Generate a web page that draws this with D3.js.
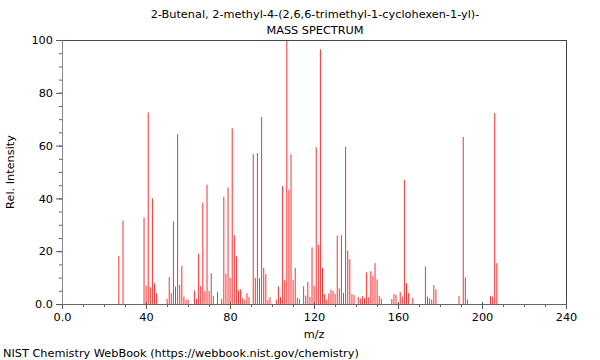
<!DOCTYPE html>
<html>
<head>
<meta charset="utf-8">
<script src="https://cdn.jsdelivr.net/npm/d3@7"></script>
<style>
  body { margin: 0; background: #fff; }
  svg { display: block; font-family: "DejaVu Sans", sans-serif; }
</style>
</head>
<body>
<svg id="chart" width="600" height="360"></svg>
<script>
const titleLines = ["2-Butenal, 2-methyl-4-(2,6,6-trimethyl-1-cyclohexen-1-yl)-", "MASS SPECTRUM"];
const xLabel = "m/z";
const yLabel = "Rel. Intensity";
const footer = "NIST Chemistry WebBook (https://webbook.nist.gov/chemistry)";

const mz = [27, 29, 39, 40, 41, 42, 43, 44, 45, 50, 51, 52, 53, 54, 55, 56, 57, 58, 59, 60,
  63, 64, 65, 66, 67, 68, 69, 70, 71, 72, 74, 76, 77, 78, 79, 80, 81, 82, 83, 84, 85, 86, 87, 88, 89,
  91, 92, 93, 94, 95, 96, 97, 98, 99, 102, 103, 104, 105, 106, 107, 108, 109, 110, 111, 112, 113,
  115, 116, 117, 118, 119, 120, 121, 122, 123, 124, 125, 126, 127, 128, 129, 130, 131, 132, 133, 134,
  135, 136, 137, 138, 139, 141, 142, 143, 144, 145, 146, 147, 148, 149, 150, 151, 152,
  157, 158, 159, 161, 162, 163, 164, 165, 167, 173, 174, 175, 176, 177, 178, 189, 191, 192, 193,
  204, 205, 206, 207];
const intensity = [18.2, 31.6, 32.8, 7.0, 72.6, 6.4, 40.0, 7.8, 4.2, 2.0, 10.2, 4.2, 31.3, 6.6, 64.3, 7.2, 14.4, 2.8, 1.6, 1.8,
  5.2, 2.0, 19.0, 6.8, 38.4, 4.9, 45.2, 4.9, 11.7, 2.9, 4.5, 1.9, 40.6, 11.5, 44.2, 9.9, 66.6, 26.1, 18.1, 5.2, 5.5, 2.2, 1.6, 4.1, 2.6,
  56.8, 9.9, 57.2, 9.8, 70.8, 13.7, 11.3, 1.6, 2.6, 1.6, 6.7, 2.6, 44.7, 9.0, 100, 43.4, 56.7, 9.0, 13.7, 2.4, 1.9,
  6.7, 3.2, 8.4, 2.7, 21.4, 6.9, 59.4, 22.5, 96.5, 13.7, 3.7, 1.7, 4.0, 5.5, 5.0, 3.8, 25.8, 5.9, 26.0, 4.2,
  59.5, 20.2, 17.0, 3.7, 3.5, 2.7, 2.1, 3.0, 2.2, 12.0, 2.6, 12.4, 10.7, 15.5, 9.3, 3.0, 2.1,
  1.9, 3.7, 3.5, 4.5, 2.8, 47.0, 7.9, 4.2, 2.3, 14.2, 2.8, 2.1, 1.7, 7.2, 5.5, 3.0, 63.3, 10.1, 1.7,
  3.0, 2.8, 72.4, 15.5];
const xTickValues = [0, 40, 80, 120, 160, 200, 240];
const yTickValues = [0, 20, 40, 60, 80, 100];

const FS = 11.3;
const svg = d3.select("#chart");
const margin = { left: 62, right: 34, top: 40, bottom: 56 };
const W = 600, H = 360;
const x = d3.scaleLinear().domain([0, 240]).range([margin.left, W - margin.right]);
const y = d3.scaleLinear().domain([0, 100]).range([H - margin.bottom, margin.top]);

const data = mz.map((m, i) => ({ m, v: intensity[i] }));

// bars (1px lines, not snapped so anti-aliasing mimics the reference)
svg.append("g").attr("transform", "translate(0.12,0)")
  .selectAll("line").data(data).join("line")
  .attr("x1", d => x(d.m)).attr("x2", d => x(d.m))
  .attr("y1", y(0)).attr("y2", d => y(d.v))
  .attr("stroke", "#ff3030").attr("stroke-width", 1);

// frame (top and right)
svg.append("path")
  .attr("d", `M${x(0)},${y(100)}H${x(240)}V${y(0)}`)
  .attr("fill", "none").attr("stroke", "#444").attr("stroke-width", 1)
  .attr("shape-rendering", "crispEdges");

// x axis
const xAxis = svg.append("g").attr("transform", `translate(0,${y(0)})`);
xAxis.call(d3.axisBottom(x).tickValues(d3.range(0, 241, 10)).tickSize(3).tickFormat(""));
xAxis.call(g => g.selectAll(".tick line").attr("stroke", "#666"));
const xMajor = svg.append("g").attr("transform", `translate(0,${y(0)})`)
  .call(d3.axisBottom(x).tickValues(xTickValues).tickSize(5).tickPadding(4)
    .tickFormat(d => d === 0 ? "0.0" : d3.format("d")(d)));
xMajor.select(".domain").remove();
xMajor.selectAll(".tick line").attr("y1", -2).attr("stroke", "#555");
xMajor.selectAll("text").attr("font-size", FS).attr("font-family", "DejaVu Sans").attr("fill", "#000");
xAxis.select(".domain").attr("stroke", "#666");

// y axis
const yAxis = svg.append("g").attr("transform", `translate(${x(0)},0)`);
yAxis.call(d3.axisLeft(y).tickValues(d3.range(0, 101, 5)).tickSize(3).tickFormat(""));
yAxis.selectAll(".tick line").attr("stroke", "#666");
yAxis.select(".domain").attr("stroke", "#888");
const yMajor = svg.append("g").attr("transform", `translate(${x(0)},0)`)
  .call(d3.axisLeft(y).tickValues(yTickValues).tickSize(6).tickPadding(3)
    .tickFormat(d => d === 0 ? "0.0" : d3.format("d")(d)));
yMajor.select(".domain").remove();
yMajor.selectAll(".tick line").attr("stroke", "#555");
yMajor.selectAll("text").attr("font-size", FS).attr("font-family", "DejaVu Sans").attr("fill", "#000");

// titles
svg.append("g").selectAll("text").data(titleLines).join("text")
  .attr("x", 315).attr("y", (d, i) => 18 + i * 16)
  .attr("text-anchor", "middle").attr("font-size", FS).attr("fill", "#000")
  .text(d => d);

svg.append("text").attr("x", 314).attr("y", 338).attr("text-anchor", "middle")
  .attr("font-size", FS).text(xLabel);
svg.append("text").attr("transform", `translate(14,${(y(0) + y(100)) / 2}) rotate(-90)`)
  .attr("text-anchor", "middle").attr("font-size", FS).text(yLabel);
svg.append("text").attr("x", 3).attr("y", 357).attr("font-size", FS).text(footer);
</script>
</body>
</html>
